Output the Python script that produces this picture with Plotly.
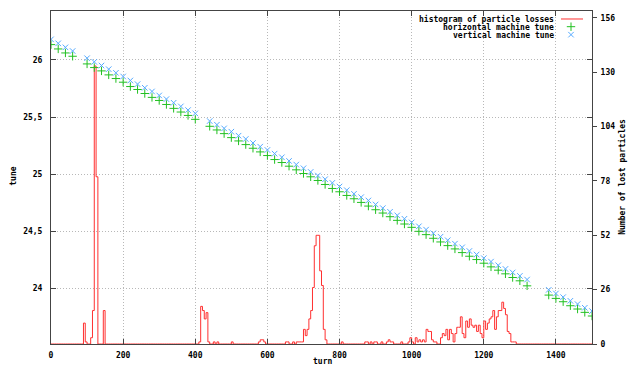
import numpy as np
import plotly.graph_objects as go

# ---------------- data ----------------
turn = [0, 20, 40, 60,
        100, 120, 140, 160, 180, 200, 220, 240, 260, 280, 300, 320, 340, 360, 380, 400,
        440, 460, 480, 500, 520, 540, 560, 580, 600, 620,
        640, 660, 680, 700, 720, 740, 760, 780, 800, 820,
        840, 860, 880, 900, 920, 940, 960, 980, 1000, 1020,
        1040, 1060, 1080, 1100, 1120, 1140, 1160, 1180, 1200, 1220,
        1240, 1260, 1280, 1300, 1320,
        1380, 1400, 1420, 1440, 1460, 1480, 1500]

vertical_tune = [26.180, 26.145, 26.110, 26.078,
                 26.015, 25.983, 25.951, 25.919, 25.887, 25.855, 25.820, 25.788, 25.756, 25.724,
                 25.689, 25.657, 25.625, 25.593, 25.561, 25.532,
                 25.465, 25.433, 25.401, 25.372, 25.337, 25.308, 25.273, 25.241, 25.212, 25.180,
                 25.148, 25.116, 25.084, 25.052, 25.020, 24.988, 24.956, 24.924, 24.892, 24.860,
                 24.828, 24.799, 24.770, 24.735, 24.703, 24.671, 24.640, 24.610, 24.578, 24.544,
                 24.515, 24.483, 24.453, 24.422, 24.392, 24.360, 24.328, 24.297, 24.265, 24.235,
                 24.203, 24.171, 24.140, 24.110, 24.078,
                 23.988, 23.956, 23.924, 23.892, 23.863, 23.831, 23.802]

horizontal_tune = [26.134, 26.096, 26.061, 26.032,
                   25.965, 25.933, 25.904, 25.869, 25.837, 25.805, 25.767, 25.741, 25.706, 25.672,
                   25.645, 25.610, 25.576, 25.544, 25.514, 25.480,
                   25.419, 25.387, 25.355, 25.320, 25.291, 25.259, 25.227, 25.195, 25.163, 25.128,
                   25.102, 25.070, 25.038, 25.006, 24.977, 24.945, 24.910, 24.875, 24.846, 24.814,
                   24.785, 24.753, 24.721, 24.689, 24.660, 24.628, 24.596, 24.564, 24.535, 24.500,
                   24.471, 24.439, 24.407, 24.375, 24.346, 24.314, 24.282, 24.253, 24.221, 24.189,
                   24.160, 24.128, 24.096, 24.067, 24.023,
                   23.942, 23.913, 23.884, 23.849, 23.820, 23.791, 23.759]

# histogram of particle losses (bins of 5 turns; only non-empty bins listed)
bin_width = 5
loss_bin_start = [90, 95, 110, 115, 120, 125, 145,
                  410, 415, 420, 425, 430, 435, 450, 460, 500,
                  575, 580, 585, 590,
                  650, 655, 670, 680, 685, 690, 695,
                  700, 705, 710, 715, 720, 725, 730, 735, 740, 745, 750, 755, 760,
                  805, 870, 875, 885, 895, 900, 915, 930, 935, 940, 945, 970, 990, 995,
                  1000, 1010, 1015, 1020, 1025, 1030, 1035,
                  1040, 1045, 1050, 1055, 1060, 1065, 1080, 1085, 1090, 1095, 1100, 1105,
                  1110, 1115, 1120, 1125, 1130, 1135, 1140, 1145, 1150, 1155, 1160, 1165,
                  1170, 1175, 1180, 1185, 1190, 1195, 1200, 1205, 1210, 1215, 1220, 1225,
                  1230, 1235, 1240, 1245, 1250, 1255, 1260, 1265, 1270, 1275, 1280, 1285]
loss_count = [10, 1, 3, 16, 133, 80, 16,
              1, 18, 16, 12, 15, 1, 1, 1, 1,
              1, 2, 2, 1,
              1, 1, 1, 1, 1, 1, 1,
              7, 4, 7, 12, 16, 27, 47, 52, 52, 35, 28, 7, 2,
              1, 1, 1, 1, 1, 1, 1, 1, 2, 1, 1, 1, 1, 3,
              1, 3, 1, 2, 1, 2, 1,
              7, 6, 6, 2, 1, 1, 3, 5, 4, 7, 2, 7,
              5, 1, 5, 8, 8, 13, 5, 3, 11, 8, 12, 9,
              8, 9, 6, 9, 5, 3, 11, 7, 10, 12, 13, 16,
              7, 13, 16, 16, 20, 17, 14, 6, 5, 1, 1, 1]

x_tick_vals = [0, 200, 400, 600, 800, 1000, 1200, 1400]
x_tick_text = ["0", "200", "400", "600", "800", "1000", "1200", "1400"]
tune_tick_vals = [24, 24.5, 25, 25.5, 26]
tune_tick_text = ["24", "24,5", "25", "25,5", "26"]
loss_tick_vals = [0, 26, 52, 78, 104, 130, 156]
loss_tick_text = ["0", "26", "52", "78", "104", "130", "156"]

# ---------------- build histogram steps ----------------
edges = np.arange(0, 1500 + bin_width, bin_width)
counts = np.zeros(len(edges))
for s, c in zip(loss_bin_start, loss_count):
    counts[int(s // bin_width)] = c

RED = "#ff3030"
GREEN = "#22c022"
BLUE = "#55aaff"
AXC = "#444444"
GRID = "#b8b8b8"
GRID_DASH = "1px,2px"
FONT = dict(family="DejaVu Sans Mono", size=8, color="black", weight="bold")
PLUS_SIZE = 6
X_SIZE = 5.5

fig = go.Figure()

fig.add_trace(go.Scatter(x=edges, y=counts, mode="lines", line_shape="hv",
                         line=dict(color=RED, width=1), xaxis="x", yaxis="y",
                         name="histogram of particle losses", showlegend=False))
fig.add_trace(go.Scatter(x=turn, y=horizontal_tune, mode="markers",
                         marker=dict(symbol="cross-thin", size=PLUS_SIZE,
                                     line=dict(color=GREEN, width=1)),
                         xaxis="x", yaxis="y2", name="horizontal machine tune",
                         showlegend=False))
fig.add_trace(go.Scatter(x=turn, y=vertical_tune, mode="markers",
                         marker=dict(symbol="x-thin", size=X_SIZE,
                                     line=dict(color=BLUE, width=1)),
                         xaxis="x", yaxis="y2", name="vertical machine tune",
                         showlegend=False))

# legend samples on a hidden pixel-scaled overlay (gnuplot style key)
fig.add_trace(go.Scatter(x=[561, 583], y=[-19, -19], mode="lines",
                         line=dict(color=RED, width=1), xaxis="x3", yaxis="y3",
                         showlegend=False, hoverinfo="skip"))
fig.add_trace(go.Scatter(x=[571], y=[-26.7], mode="markers",
                         marker=dict(symbol="cross-thin", size=PLUS_SIZE,
                                     line=dict(color=GREEN, width=1)),
                         xaxis="x3", yaxis="y3", showlegend=False, hoverinfo="skip"))
fig.add_trace(go.Scatter(x=[571], y=[-34.7], mode="markers",
                         marker=dict(symbol="x-thin", size=X_SIZE,
                                     line=dict(color=BLUE, width=1)),
                         xaxis="x3", yaxis="y3", showlegend=False, hoverinfo="skip"))

L, R, T, B = 51, 592, 11, 344.5
W, H = 630, 368

fig.update_layout(
    width=W, height=H,
    margin=dict(l=L, r=W - R, t=T, b=H - B, autoexpand=False),
    paper_bgcolor="white", plot_bgcolor="white",
    showlegend=False,
    font=FONT,
    xaxis=dict(range=[0, 1500], tickvals=x_tick_vals, ticktext=x_tick_text,
               ticks="inside", ticklen=5, tickcolor=AXC, showline=True, linecolor=AXC,
               linewidth=1, mirror="ticks", showgrid=True, gridcolor=GRID, griddash=GRID_DASH,
               gridwidth=1, zeroline=False, tickfont=FONT, ticklabelstandoff=3),
    yaxis=dict(range=[0, 159.3], side="right", tickvals=loss_tick_vals,
               ticktext=loss_tick_text, ticks="outside", ticklen=4, tickcolor=AXC,
               showline=True, linecolor=AXC, showgrid=False, zeroline=False,
               tickfont=FONT, ticklabelstandoff=2),
    yaxis2=dict(range=[23.514, 26.428], side="left", overlaying="y", anchor="x",
                tickvals=tune_tick_vals, ticktext=tune_tick_text, ticks="inside",
                ticklen=5, tickcolor=AXC, showline=True, linecolor=AXC, mirror="ticks",
                showgrid=True, gridcolor=GRID, griddash=GRID_DASH, gridwidth=1,
                zeroline=False, tickfont=FONT, ticklabelstandoff=6),
    xaxis3=dict(range=[L, R], overlaying="x", anchor="y3", visible=False),
    yaxis3=dict(range=[-B, -T], overlaying="y", anchor="x3", visible=False),
)

def px(x):
    return (x - L) / (R - L)

def py(y):
    return (B - y) / (B - T)

ann = [
    dict(text="histogram of particle losses", x=px(556), y=py(19)),
    dict(text="horizontal machine tune", x=px(556), y=py(26.7)),
    dict(text="vertical machine tune", x=px(556), y=py(34.7)),
]
for a in ann:
    fig.add_annotation(xref="paper", yref="paper", xanchor="right", yanchor="middle",
                       showarrow=False, font=FONT, **a)

fig.add_annotation(text="turn", xref="paper", yref="paper", x=px(322), y=py(362),
                   xanchor="center", yanchor="middle", showarrow=False, font=FONT)
fig.add_annotation(text="tune", xref="paper", yref="paper", x=px(14), y=py(177),
                   xanchor="center", yanchor="middle", showarrow=False, font=FONT,
                   textangle=-90)
fig.add_annotation(text="Number of lost particles", xref="paper", yref="paper",
                   x=px(622), y=py(177), xanchor="center", yanchor="middle",
                   showarrow=False, font=FONT, textangle=-90)

fig.write_html("out.html")
